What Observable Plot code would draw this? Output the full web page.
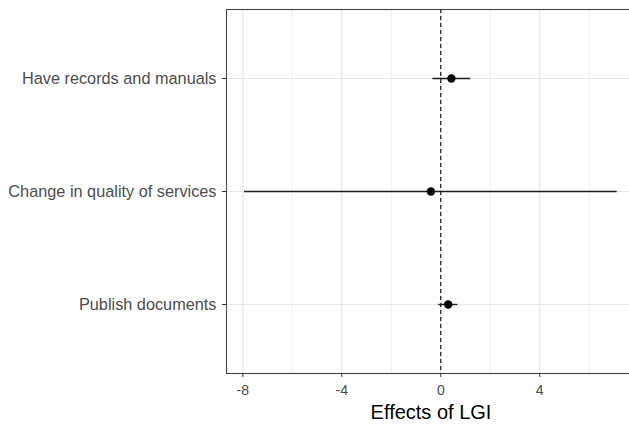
<!DOCTYPE html>
<html>
<head>
<meta charset="utf-8">
<script src="https://cdn.jsdelivr.net/npm/d3@7"></script>
<script src="https://cdn.jsdelivr.net/npm/@observablehq/plot@0.6"></script>
<style>
  html, body { margin: 0; padding: 0; background: #fff; overflow: hidden; }
  #chart { width: 629px; height: 426px; overflow: hidden; }
  #chart svg { max-width: none !important; }
</style>
</head>
<body>
<div id="chart"></div>
<script>
const terms = ["Have records and manuals", "Change in quality of services", "Publish documents"];
const estimates = [0.43, -0.40, 0.30];
const lower = [-0.32, -7.93, -0.08];
const upper = [1.21, 7.13, 0.69];
const majorTicks = [-8, -4, 0, 4];
const minorTicks = [-6, -2, 2, 6];
const xTitle = "Effects of LGI";

const data = terms.map((t, i) => ({term: t, est: estimates[i], lo: lower[i], hi: upper[i]}));

const font = "Liberation Sans, Arial, Helvetica, sans-serif";

const chart = Plot.plot({
  width: 635,
  height: 426,
  marginLeft: 226,
  marginRight: 0,
  marginTop: 9,
  marginBottom: 53,
  style: {fontFamily: font, background: "#fff", overflow: "visible", maxWidth: "none"},
  x: {domain: [-8.66, 7.87]},
  y: {type: "point", domain: terms, padding: 0.6},
  marks: [
    Plot.ruleX(minorTicks, {stroke: "#ebebeb", strokeWidth: 0.7}),
    Plot.ruleX(majorTicks, {stroke: "#e6e6e6", strokeWidth: 1.2}),
    Plot.ruleY(terms, {y: d => d, stroke: "#e6e6e6", strokeWidth: 1.2}),
    Plot.ruleX([0], {stroke: "#000", strokeWidth: 1.1, strokeDasharray: "4,3"}),
    Plot.ruleY(data, {y: "term", x1: "lo", x2: "hi", stroke: "#1a1a1a", strokeWidth: 1.4}),
    Plot.dot(data, {x: "est", y: "term", r: 4.2, fill: "#000", stroke: "none"}),
    Plot.frame({stroke: "#444", strokeWidth: 1.1}),
    Plot.axisX(majorTicks, {tickSize: 4, tickPadding: 8, fontSize: 14, color: "#4d4d4d", stroke: "#333", label: null, tickFormat: d => String(d)}),
    Plot.axisY({tickSize: 4, tickPadding: 6, fontSize: 16.3, color: "#4d4d4d", stroke: "#333", label: null}),
    Plot.text([xTitle], {frameAnchor: "bottom", dy: 39, fontSize: 20, fill: "#000", lineAnchor: "middle", textAnchor: "middle", fontFamily: font})
  ]
});
document.getElementById("chart").appendChild(chart);
</script>
</body>
</html>
